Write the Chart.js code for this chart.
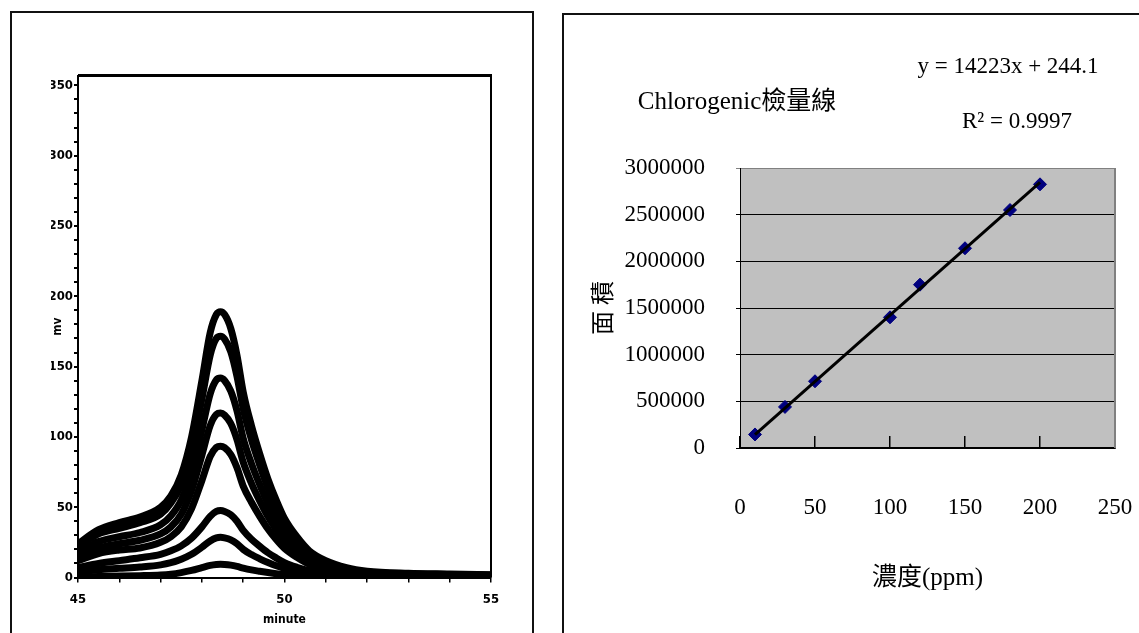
<!DOCTYPE html>
<html lang="zh-Hant">
<head>
<meta charset="UTF-8">
<title>Chlorogenic 檢量線</title>
<script src="https://cdn.jsdelivr.net/npm/chart.js"></script>
<style>
    body {
        margin: 0;
        background: #fff;
        width: 1139px;
        height: 633px;
        overflow: hidden;
        position: relative;
    }
    .frame {
        position: absolute;
        box-sizing: border-box;
        border: 2px solid #111;
        border-bottom: none;
    }
    #leftFrame { left: 10px; top: 11px; width: 524px; height: 622px; }
    #rightFrame { left: 562px; top: 13px; width: 577px; height: 620px; border-right: none; }
    canvas { position: absolute; }
    #chromChart { left: 12px; top: 14px; }
    #calibChart { left: 564px; top: 16px; }
</style>
</head>
<body>
<div class="frame" id="leftFrame"></div>
<div class="frame" id="rightFrame"></div>
<canvas id="chromChart" width="520" height="619"></canvas>
<canvas id="calibChart" width="575" height="617"></canvas>

<script>
// ---- chromatogram (left panel) ----
const minutes = [45, 45.5, 46, 46.5, 47, 47.25, 47.5, 47.75, 48, 48.2, 48.35, 48.45, 48.55, 48.7, 48.85,
                 49, 49.2, 49.4, 49.6, 49.8, 50, 50.3, 50.6, 51, 51.5, 52, 53, 54, 55];
const mv1 = [24, 34, 39, 43, 50, 58, 73, 100, 140, 174, 187, 189, 187, 177, 158, 132, 108, 88, 70, 55, 42, 29, 19, 12, 7, 4.5, 3, 2.5, 2];
const mv2 = [22, 31, 35, 39, 45, 53, 66, 91, 127, 158, 170, 171.5, 169.5, 160.5, 143, 120, 98, 80, 63.5, 50, 38, 26.5, 17, 11, 6.3, 4, 2.7, 2.2, 1.8];
const mv3 = [18, 25.5, 29, 32, 37.5, 44, 55, 75, 105, 130.5, 140.5, 141.8, 140, 132.5, 118.5, 99, 81, 66, 52.5, 41, 31.5, 22, 14.3, 9, 5.3, 3.4, 2.3, 1.9, 1.5];
const mv4 = [15, 21, 24, 26.5, 31, 36, 45, 62, 87, 108, 116, 117, 115.5, 109.5, 98, 82, 67, 54.5, 43.3, 34, 26, 18, 11.8, 7.4, 4.3, 2.8, 1.9, 1.5, 1.2];
const mv5 = [12, 17, 19.5, 21, 25, 29, 36, 49, 69, 86, 92.5, 93.4, 92.4, 87.5, 78, 65, 53.5, 43.5, 34.5, 27, 20.7, 14.3, 9.4, 5.9, 3.5, 2.2, 1.5, 1.2, 1];
const mv6 = [7, 10, 12, 14, 16.5, 19, 22.5, 28, 36, 43.5, 47, 47.6, 47, 44.6, 40, 33.5, 27.2, 22.2, 17.6, 13.9, 10.6, 7.3, 4.8, 3, 1.8, 1.1, 0.8, 0.6, 0.5];
const mv7 = [4, 5.5, 6.5, 7.5, 9, 10.5, 13, 16.5, 21.5, 26, 28.2, 28.6, 28.2, 26.8, 24, 20, 16.3, 13.3, 10.6, 8.3, 6.4, 4.4, 2.9, 1.8, 1.1, 0.7, 0.5, 0.4, 0.3];
const mv8 = [0.5, 0.8, 1, 1.3, 1.8, 2.4, 3.5, 5, 7, 8.6, 9.3, 9.4, 9.3, 8.8, 7.9, 6.7, 5.4, 4.4, 3.5, 2.7, 2.1, 1.5, 1, 0.6, 0.4, 0.3, 0.2, 0.2, 0.2];
const mvSeries = [mv1, mv2, mv3, mv4, mv5, mv6, mv7, mv8];
const mvTicks = [0, 50, 100, 150, 200, 250, 300, 350];
const minuteTicks = [45, 50, 55];

// ---- calibration curve (right panel) ----
const ppm = [10, 30, 50, 100, 120, 150, 180, 200];
const area = [145000, 440000, 715000, 1400000, 1750000, 2140000, 2550000, 2825000];
const fitPpm = [10, 200];
const fitArea = [142500, 2844800];
const areaTicks = [0, 500000, 1000000, 1500000, 2000000, 2500000, 3000000];
const ppmTicks = [0, 50, 100, 150, 200, 250];
const titleText = 'Chlorogenic檢量線';
const eqText = 'y = 14223x + 244.1';
const r2Text = 'R² = 0.9997';

const sansBold = { family: "'DejaVu Sans Condensed', 'Liberation Sans', Arial, sans-serif", weight: 'bold', size: 12 };
const serifFamily = "'Liberation Serif', 'Noto Sans CJK TC', serif";

// minor tick marks every 10 mv / every minute
function everyStep(from, to, step) {
    const out = [];
    for (let v = from; v <= to + 1e-9; v += step) out.push({ value: v });
    return out;
}

// top + right border of the chromatogram box
const chromBox = {
    id: 'chromBox',
    afterDraw(chart) {
        const { ctx, chartArea: a } = chart;
        ctx.save();
        ctx.strokeStyle = '#000';
        ctx.lineWidth = 3;
        ctx.beginPath();
        ctx.moveTo(a.left, a.top);
        ctx.lineTo(a.right + 1, a.top);
        ctx.stroke();
        ctx.lineWidth = 2;
        ctx.beginPath();
        ctx.moveTo(a.right, a.top);
        ctx.lineTo(a.right, a.bottom);
        ctx.stroke();
        ctx.restore();
    }
};

new Chart(document.getElementById('chromChart'), {
    type: 'line',
    data: {
        datasets: mvSeries.map(s => ({
            data: minutes.map((m, i) => ({ x: m, y: s[i] })),
            borderColor: '#000',
            borderWidth: 7,
            pointRadius: 0,
            cubicInterpolationMode: 'monotone',
            fill: false
        }))
    },
    options: {
        responsive: false,
        animation: false,
        layout: { padding: { top: 61.5, right: 41, left: 39, bottom: 5.8 } },
        plugins: { legend: { display: false }, tooltip: { enabled: false } },
        scales: {
            x: {
                type: 'linear', min: 45, max: 55,
                afterBuildTicks: s => { s.ticks = everyStep(45, 55, 1); },
                ticks: {
                    autoSkip: false, maxRotation: 0, color: '#000', padding: 9,
                    font: { ...sansBold, size: 13 },
                    callback: v => minuteTicks.includes(v) ? v : ''
                },
                grid: { drawOnChartArea: false, color: '#000', tickLength: 5, lineWidth: 1.5 },
                border: { color: '#000', width: 2 },
                title: { display: true, text: 'minute', color: '#000', font: sansBold, padding: 0 },
                afterFit: s => { s.height = 49.7; s.paddingLeft = 0; s.paddingRight = 0; }
            },
            y: {
                min: 0, max: 357,
                afterBuildTicks: s => { s.ticks = everyStep(0, 350, 10); },
                ticks: {
                    autoSkip: false, color: '#000', padding: 1,
                    font: { ...sansBold, size: 13 },
                    callback: v => mvTicks.includes(v) ? v : ''
                },
                grid: { drawOnChartArea: false, color: '#000', tickLength: 4, lineWidth: 2 },
                border: { color: '#000', width: 2 },
                title: { display: true, text: 'mv', color: '#000', font: sansBold, padding: 0 },
                afterFit: s => { s.width = 27; s.paddingTop = 0; s.paddingBottom = 0; }
            }
        }
    },
    plugins: [chromBox]
});

// grey plot area, its grey right edge and the text labels
const calibDecor = {
    id: 'calibDecor',
    beforeDraw(chart) {
        const { ctx, chartArea: a } = chart;
        ctx.save();
        ctx.fillStyle = '#c0c0c0';
        ctx.fillRect(a.left, a.top, a.right - a.left, a.bottom - a.top);
        ctx.restore();
    },
    afterDraw(chart) {
        const { ctx, chartArea: a } = chart;
        ctx.save();
        ctx.strokeStyle = '#808080';
        ctx.lineWidth = 2;
        ctx.beginPath();
        ctx.moveTo(a.right, a.top);
        ctx.lineTo(a.right, a.bottom);
        ctx.stroke();

        ctx.fillStyle = '#000';
        ctx.textAlign = 'center';
        ctx.textBaseline = 'middle';
        ctx.font = '25px ' + serifFamily;
        ctx.fillText(titleText, 173, 86);
        ctx.font = '23px ' + serifFamily;
        ctx.fillText(eqText, 444, 51);
        ctx.fillText(r2Text, 453, 106);
        ctx.restore();
    }
};

new Chart(document.getElementById('calibChart'), {
    type: 'scatter',
    data: {
        datasets: [
            {
                type: 'line',
                data: fitPpm.map((x, i) => ({ x: x, y: fitArea[i] })),
                borderColor: '#000',
                borderWidth: 3,
                pointRadius: 0
            },
            {
                data: ppm.map((x, i) => ({ x: x, y: area[i] })),
                pointStyle: 'rectRot',
                pointRadius: 6.5,
                backgroundColor: '#00007f',
                borderColor: '#00007f'
            }
        ]
    },
    options: {
        responsive: false,
        animation: false,
        layout: { padding: { top: 152, right: 24, left: 26.6, bottom: 39.4 } },
        plugins: { legend: { display: false }, tooltip: { enabled: false } },
        scales: {
            x: {
                type: 'linear', min: 0, max: 250,
                afterBuildTicks: s => { s.ticks = ppmTicks.map(v => ({ value: v })); },
                ticks: {
                    color: '#000', padding: 58, maxRotation: 0,
                    font: { family: serifFamily, size: 23 }
                },
                grid: { drawOnChartArea: false, color: '#000', tickLength: -12, lineWidth: 1.5 },
                border: { color: '#000', width: 2 },
                title: { display: true, text: '濃度(ppm)', color: '#000', font: { family: serifFamily, size: 25 }, padding: 0 },
                afterFit: s => { s.height = 145.6; s.paddingLeft = 0; s.paddingRight = 0; }
            },
            y: {
                min: 0, max: 3000000,
                afterBuildTicks: s => { s.ticks = areaTicks.map(v => ({ value: v })); },
                ticks: {
                    color: '#000', padding: 31,
                    font: { family: serifFamily, size: 23 },
                    callback: v => String(v)
                },
                grid: {
                    color: c => (c.tick && c.tick.value === 3000000) ? '#808080' : '#000',
                    lineWidth: 1, tickLength: 4
                },
                border: { color: '#000', width: 1 },
                title: { display: true, text: '面 積', color: '#000', font: { family: serifFamily, size: 24 }, padding: 0 },
                afterFit: s => { s.width = 149.4; s.paddingTop = 0; s.paddingBottom = 0; }
            }
        }
    },
    plugins: [calibDecor]
});
</script>
</body>
</html>
